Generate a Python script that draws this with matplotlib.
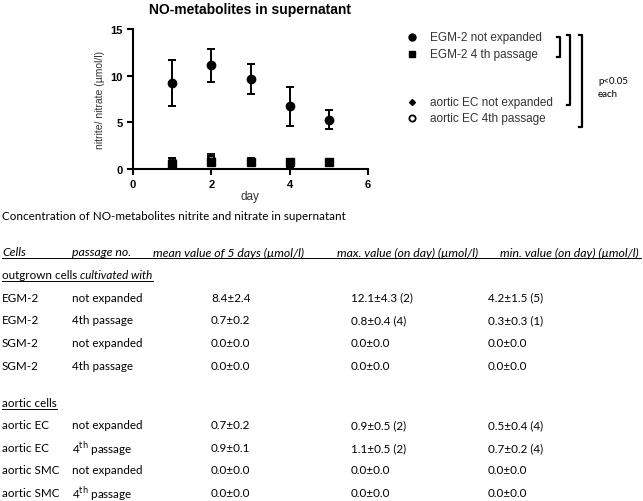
import matplotlib
matplotlib.use("Agg")
import matplotlib.pyplot as plt
from matplotlib.lines import Line2D

W, H = 643, 502

# chart data
days = [1, 2, 3, 4, 5]
egm_ne = [9.2, 11.1, 9.6, 6.7, 5.3]
egm_ne_err = [2.5, 1.8, 1.6, 2.1, 1.0]
egm_4p = [0.5, 0.8, 0.7, 0.8, 0.7]
egm_4p_err = [0.3, 0.4, 0.3, 0.3, 0.2]
aec_ne = [0.8, 0.9, 0.7, 0.5, 0.7]
aec_ne_err = [0.4, 0.5, 0.3, 0.4, 0.2]
aec_4p = [0.9, 1.1, 0.9, 0.7, 0.8]
aec_4p_err = [0.3, 0.5, 0.3, 0.2, 0.2]

series_labels = ["EGM-2 not expanded", "EGM-2 4 th passage",
                 "aortic EC not expanded", "aortic EC 4th passage"]

# table data
table_header = ["Cells", "passage no.", "mean value of 5 days (µmol/l)",
                "max. value (on day) (µmol/l)", "min. value (on day) (µmol/l)"]
outgrown_rows = [
    ["EGM-2", "not expanded", "8.4±2.4", "12.1±4.3 (2)", "4.2±1.5 (5)"],
    ["EGM-2", "4th passage", "0.7±0.2", "0.8±0.4 (4)", "0.3±0.3 (1)"],
    ["SGM-2", "not expanded", "0.0±0.0", "0.0±0.0", "0.0±0.0"],
    ["SGM-2", "4th passage", "0.0±0.0", "0.0±0.0", "0.0±0.0"],
]
aortic_rows = [
    ["aortic EC", "not expanded", "0.7±0.2", "0.9±0.5 (2)", "0.5±0.4 (4)"],
    ["aortic EC", "4$^{\\mathrm{th}}$ passage", "0.9±0.1", "1.1±0.5 (2)", "0.7±0.2 (4)"],
    ["aortic SMC", "not expanded", "0.0±0.0", "0.0±0.0", "0.0±0.0"],
    ["aortic SMC", "4$^{\\mathrm{th}}$ passage", "0.0±0.0", "0.0±0.0", "0.0±0.0"],
]


def fx(px):
    return px / W


def fy(py):
    return 1 - py / H


fig = plt.figure(figsize=(W / 100, H / 100), dpi=100)
plt.rcParams['font.family'] = ['Liberation Sans', 'DejaVu Sans']

ax = fig.add_axes([fx(133), fy(170), (368 - 133) / W, 140 / H])
kw = dict(color='black', capsize=3, elinewidth=1.4, capthick=1.4, linestyle='none')
# open circles first so the filled markers sit on top, like the original
ax.errorbar(days, aec_4p, yerr=aec_4p_err, marker='o', markersize=5, mfc='white', mew=1.3, **kw)
ax.errorbar(days, aec_ne, yerr=aec_ne_err, marker='D', markersize=3.5, **kw)
ax.errorbar(days, egm_4p, yerr=egm_4p_err, marker='s', markersize=5.5, **kw)
ax.errorbar(days, egm_ne, yerr=egm_ne_err, marker='o', markersize=6, **kw)
ax.set_xlim(0, 6)
ax.set_ylim(0, 15)
ax.set_xticks([0, 2, 4, 6])
ax.set_yticks([0, 5, 10, 15])
for s in ['top', 'right']:
    ax.spines[s].set_visible(False)
for s in ['left', 'bottom']:
    ax.spines[s].set_linewidth(1.5)
ax.tick_params(direction='out', width=1.5, length=4, labelsize=8)
for lab in ax.get_xticklabels() + ax.get_yticklabels():
    lab.set_fontweight('bold')
ax.set_ylabel('nitrite/ nitrate (µmol/l)', fontsize=7.5, color='#333333', labelpad=4)
fig.text(fx(250), fy(197), 'day', fontsize=8.5, color='#333333', ha='center', va='center')
fig.text(fx(250), fy(10), 'NO-metabolites in supernatant', fontsize=10, fontweight='bold',
         ha='center', va='center')

# legend drawn by hand
leg_y = [38, 55, 103, 119]
styles = [dict(marker='o', markersize=5, color='black'),
          dict(marker='s', markersize=4.5, color='black'),
          dict(marker='D', markersize=3, color='black'),
          dict(marker='o', markersize=4.5, color='black', mfc='white', mew=1.3)]
for y, lab, st in zip(leg_y, series_labels, styles):
    fig.add_artist(Line2D([fx(412)], [fy(y)], transform=fig.transFigure, linestyle='none', **st))
    fig.text(fx(430), fy(y), lab, fontsize=8.5, color='#333333', va='center')


# significance brackets
def bracket(x, y0, y1):
    fig.add_artist(Line2D([fx(x - 3), fx(x), fx(x), fx(x - 3)],
                          [fy(y0), fy(y0), fy(y1), fy(y1)],
                          transform=fig.transFigure, color='black', lw=1.6))


bracket(560, 38, 58)
bracket(570, 36, 106)
bracket(582, 36, 128)
fig.text(fx(598), fy(88), 'p<0.05\neach', fontsize=7, family=['Lato', 'DejaVu Sans'],
         va='center', linespacing=1.6)

# table below
tfont = ['Lato', 'DejaVu Sans']
tsize = 8.4
hsize = 8.8
fig.text(fx(2), fy(217), 'Concentration of NO-metabolites nitrite and nitrate in supernatant',
         fontsize=tsize, family=tfont, va='center')

header_x = [2, 72, 153, 337, 500]
for x, t in zip(header_x, table_header):
    fig.text(fx(x), fy(253), t, fontsize=hsize, family=tfont, style='italic', va='center')
fig.add_artist(Line2D([fx(2), fx(641)], [fy(259), fy(259)], transform=fig.transFigure,
                      color='black', lw=0.7))

t1 = fig.text(fx(2), fy(276), 'outgrown cells ', fontsize=tsize, family=tfont, va='center')
fig.canvas.draw()
bb = t1.get_window_extent()
t2 = fig.text(bb.x1 / W, fy(276), 'cultivated with', fontsize=tsize, family=tfont,
              style='italic', va='center')
t3 = fig.text(fx(2), fy(404), 'aortic cells', fontsize=tsize, family=tfont, va='center')
fig.canvas.draw()
for t_end, yy in [(t2, 282), (t3, 410)]:
    e = t_end.get_window_extent()
    fig.add_artist(Line2D([fx(2), e.x1 / W], [fy(yy), fy(yy)], transform=fig.transFigure,
                          color='black', lw=0.7))

col_x = [2, 72, 211, 351, 488]
for rows, ys in [(outgrown_rows, [298, 321, 344, 367]), (aortic_rows, [426, 449, 471, 494])]:
    for row, y in zip(rows, ys):
        for x, t in zip(col_x, row):
            fig.text(fx(x), fy(y), t, fontsize=tsize, family=tfont, va='center')

fig.savefig('out.png', dpi=100)
